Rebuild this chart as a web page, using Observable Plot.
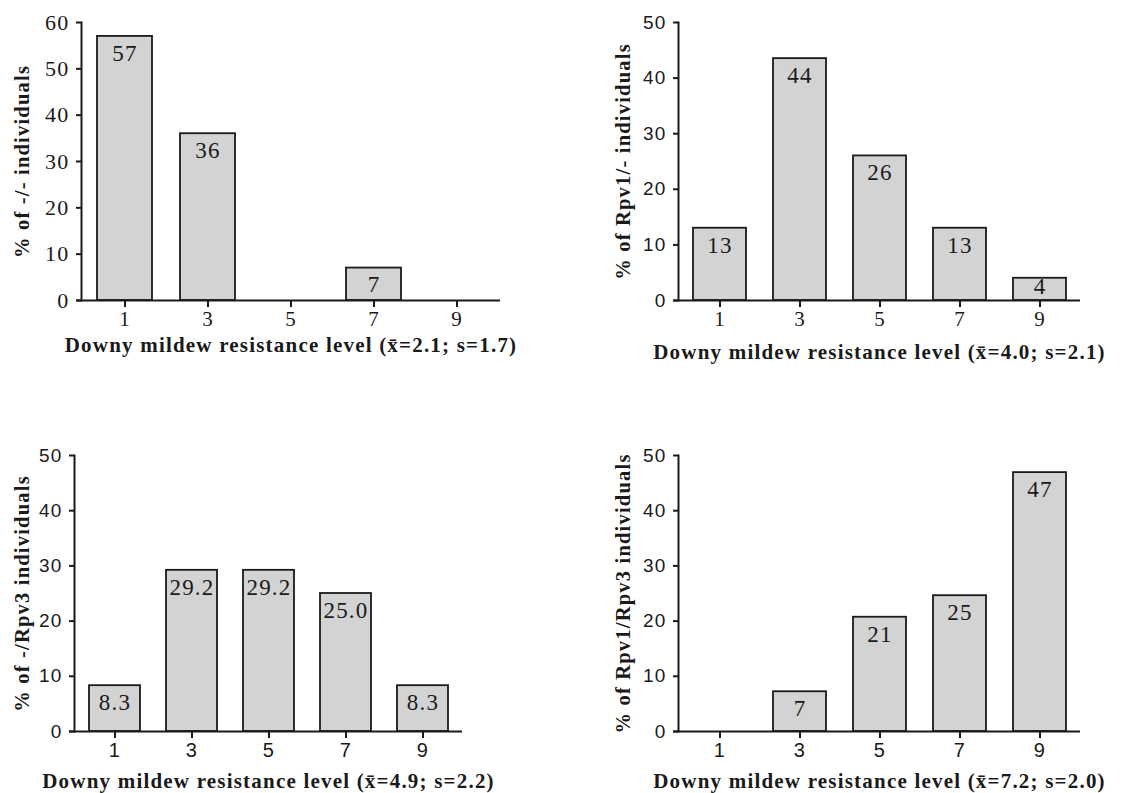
<!DOCTYPE html>
<html>
<head>
<meta charset="utf-8">
<script src="https://cdn.jsdelivr.net/npm/d3@7"></script>
<script src="https://cdn.jsdelivr.net/npm/@observablehq/plot@0.6"></script>
<style>
  html, body { margin: 0; padding: 0; background: #fff; }
  #wrap { position: relative; width: 1121px; height: 793px; overflow: hidden; }
  #wrap > div { position: absolute; }
  svg { overflow: visible; }
</style>
</head>
<body>
<div id="wrap">
  <div id="p1" style="left:0px;top:0px"></div>
  <div id="p2" style="left:560px;top:0px"></div>
  <div id="p3" style="left:0px;top:400px"></div>
  <div id="p4" style="left:560px;top:400px"></div>
</div>
<script>
// ---- data ----
const levels = ["1", "3", "5", "7", "9"];

const pctMinusMinus = [57, 36, 0, 7, 0];
const lblMinusMinus = ["57", "36", "", "7", ""];

const pctRpv1Minus = [13, 43.5, 26, 13, 4];
const lblRpv1Minus = ["13", "44", "26", "13", "4"];

const pctMinusRpv3 = [8.3, 29.2, 29.2, 25.0, 8.3];
const lblMinusRpv3 = ["8.3", "29.2", "29.2", "25.0", "8.3"];

const pctRpv1Rpv3 = [0, 7.2, 20.7, 24.6, 46.9];
const lblRpv1Rpv3 = ["", "7", "21", "25", "47"];

const yTitles = [
  "% of -/- individuals",
  "% of Rpv1/- individuals",
  "% of -/Rpv3 individuals",
  "% of Rpv1/Rpv3 individuals"
];
const xTitles = [
  "Downy mildew resistance level (x\u0304=2.1; s=1.7)",
  "Downy mildew resistance level (x\u0304=4.0; s=2.1)",
  "Downy mildew resistance level (x\u0304=4.9; s=2.2)",
  "Downy mildew resistance level (x\u0304=7.2; s=2.0)"
];
const yMax = [60, 50, 50, 50];

const SERIF = "'Liberation Serif', 'Times New Roman', serif";
const SANS = "'Liberation Sans', Arial, sans-serif";
const INK = "#1a1a1a";

function panel(cfg) {
  const data = levels.map((lv, i) => ({level: lv, pct: cfg.values[i], label: cfg.labels[i]}));
  const bars = data.filter(d => d.pct > 0);
  const ticksY = d3.range(0, cfg.ymax + 1, 10);
  return Plot.plot({
    width: cfg.width,
    height: cfg.height,
    marginLeft: cfg.ml,
    marginRight: cfg.mr,
    marginTop: cfg.mt,
    marginBottom: cfg.mb,
    style: {fontFamily: SERIF, color: INK, background: "transparent", overflow: "visible", letterSpacing: "1.2px"},
    x: {type: "band", domain: levels, paddingInner: 0.34, paddingOuter: 0.17, label: null},
    y: {domain: [0, cfg.ymax], label: null},
    marks: [
      Plot.barY(bars, {x: "level", y: "pct", fill: "#d3d3d3", stroke: INK, strokeWidth: 1.8}),
      Plot.text(bars, {x: "level", y: d => Math.max(d.pct, cfg.ymax * 0.11), text: "label", dy: 8, lineAnchor: "top",
        fontSize: 23, fontFamily: SERIF, fill: INK}),
      Plot.ruleY([0], {stroke: INK, strokeWidth: 2, insetLeft: -5}),
      Plot.frame({anchor: "left", stroke: INK, strokeWidth: 2}),
      Plot.axisY({ticks: ticksY, tickSize: 5, tickPadding: 7, tickFormat: d => String(d),
        fontSize: cfg.yTickFont, fontFamily: cfg.yTickFamily, stroke: INK, strokeWidth: 2, fill: INK, label: null}),
      Plot.axisX({tickSize: 7, tickPadding: 4, fontSize: cfg.xTickFont, fontFamily: cfg.xTickFamily,
        stroke: INK, strokeWidth: 2, fill: INK, label: null}),
      Plot.text([cfg.xTitle], {frameAnchor: "bottom", dy: cfg.xTitleDy, lineAnchor: "middle", textAnchor: "middle",
        fontSize: 21, fontWeight: "bold", fontFamily: SERIF, fill: INK}),
      Plot.text([cfg.yTitle], {frameAnchor: "left", dx: cfg.yTitleDx, rotate: -90, lineAnchor: "middle", textAnchor: "middle",
        fontSize: 20.5, fontWeight: "bold", fontFamily: SERIF, fill: INK})
    ]
  });
}

const cfgs = [
  {id: "p1", width: 560, height: 370, ml: 81, mr: 60, mt: 22, mb: 70, xTitleDy: 45, yTitleDx: -59,
   yTickFamily: SERIF, xTickFamily: SERIF},
  {id: "p2", width: 561, height: 370, ml: 118, mr: 41, mt: 22, mb: 70, xTitleDy: 52, yTitleDx: -55,
   yTickFamily: SANS, xTickFamily: SERIF},
  {id: "p3", width: 560, height: 393, ml: 74, mr: 98, mt: 55, mb: 62, xTitleDy: 50, yTitleDx: -52,
   yTickFamily: SANS, xTickFamily: SANS},
  {id: "p4", width: 561, height: 393, ml: 118, mr: 41, mt: 55, mb: 62, xTitleDy: 50, yTitleDx: -55,
   yTickFamily: SANS, xTickFamily: SANS}
];
const valueSets = [pctMinusMinus, pctRpv1Minus, pctMinusRpv3, pctRpv1Rpv3];
const labelSets = [lblMinusMinus, lblRpv1Minus, lblMinusRpv3, lblRpv1Rpv3];

cfgs.forEach((c, i) => {
  const chart = panel(Object.assign({}, c, {
    values: valueSets[i], labels: labelSets[i], ymax: yMax[i],
    xTitle: xTitles[i], yTitle: yTitles[i],
    yTickFont: c.yTickFamily === SANS ? 19 : 22, xTickFont: c.xTickFamily === SANS ? 20 : 21
  }));
  document.getElementById(c.id).appendChild(chart);
});
</script>
</body>
</html>
